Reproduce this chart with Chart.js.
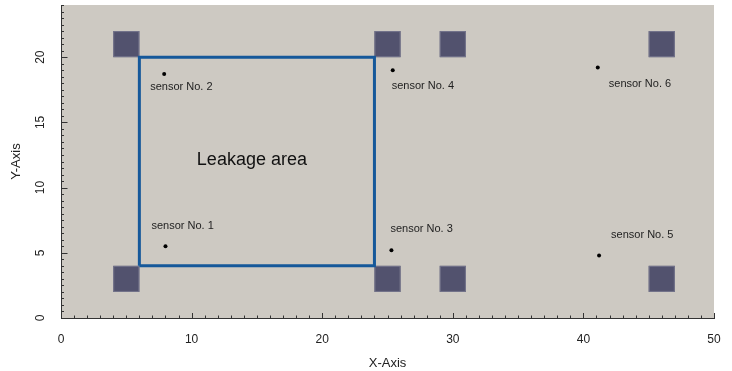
<!DOCTYPE html>
<html>
<head>
<meta charset="utf-8">
<script src="https://cdn.jsdelivr.net/npm/chart.js@4/dist/chart.umd.min.js"></script>
<style>
  html, body { margin: 0; padding: 0; background: #fff; }
</style>
</head>
<body>
<canvas id="chart" width="732" height="371"></canvas>
<script>
// Sensores
const sensorNames = ['sensor No. 1', 'sensor No. 2', 'sensor No. 3', 'sensor No. 4', 'sensor No. 5', 'sensor No. 6'];
const sensorX = [8.0, 7.9, 25.3, 25.4, 41.2, 41.1];
const sensorY = [5.5, 18.7, 5.2, 19.0, 4.8, 19.2];

// Zona de fuga (contorno cerrado)
const leakX = [6, 6, 24, 24, 6];
const leakY = [4, 20, 20, 4, 4];
const leakLabel = 'Leakage area';

// Bloques fijos de 2x2 (esquina inferior izquierda)
const blockX = [4, 24, 29, 45];
const blockY = [2, 20];
const blockSize = 2;

// Ejes
const xTicks = [0, 10, 20, 30, 40, 50];
const yTicks = [0, 5, 10, 15, 20];
const xRange = [0, 50];
const yRange = [0, 24];

// Desplazamiento de las etiquetas respecto al punto (px)
const labelOffsets = [[-14, -20], [-14, 13], [-1, -21], [-1, 16], [12, -20], [11, 16]];

const font = '"Liberation Sans", Arial, Helvetica, sans-serif';

const decor = {
  id: 'decor',
  beforeDraw(chart) {
    const { ctx, chartArea: a } = chart;
    ctx.save();
    ctx.fillStyle = '#cdc9c2';
    ctx.fillRect(a.left, a.top, a.right - a.left, a.bottom - a.top);
    ctx.restore();
  },
  beforeDatasetsDraw(chart) {
    const { ctx, scales: { x, y } } = chart;
    ctx.save();
    blockY.forEach(by => {
      blockX.forEach(bx => {
        const x0 = x.getPixelForValue(bx), x1 = x.getPixelForValue(bx + blockSize);
        const y0 = y.getPixelForValue(by + blockSize), y1 = y.getPixelForValue(by);
        ctx.fillStyle = '#52526e';
        ctx.fillRect(x0, y0, x1 - x0, y1 - y0);
        ctx.strokeStyle = '#75758c';
        ctx.lineWidth = 1;
        ctx.strokeRect(x0 + 0.5, y0 + 0.5, x1 - x0 - 1, y1 - y0 - 1);
      });
    });
    ctx.restore();
  },
  afterDraw(chart) {
    const { ctx, chartArea: a, scales: { x, y } } = chart;
    ctx.save();
    // marcas de los ejes hacia dentro
    ctx.strokeStyle = '#333';
    ctx.lineWidth = 1;
    ctx.beginPath();
    for (let v = xRange[0]; v <= xRange[1]; v += 1) {
      const px = Math.round(x.getPixelForValue(v)) + 0.5;
      const len = v % 10 === 0 ? 5 : 2.5;
      ctx.moveTo(px, a.bottom);
      ctx.lineTo(px, a.bottom - len);
    }
    for (let v = yRange[0]; v <= yRange[1]; v += 0.5) {
      const py = Math.round(y.getPixelForValue(v)) + 0.5;
      const len = v % 5 === 0 ? 6.5 : 3;
      ctx.moveTo(a.left, py);
      ctx.lineTo(a.left + len, py);
    }
    ctx.stroke();

    // etiquetas de sensores
    ctx.fillStyle = '#1e1e1e';
    ctx.font = '11px ' + font;
    ctx.textAlign = 'left';
    ctx.textBaseline = 'middle';
    sensorNames.forEach((name, i) => {
      const px = x.getPixelForValue(sensorX[i]) + labelOffsets[i][0];
      const py = y.getPixelForValue(sensorY[i]) + labelOffsets[i][1];
      ctx.fillText(name, px, py);
    });

    // texto de la zona de fuga
    const cx = (x.getPixelForValue(Math.min(...leakX)) + x.getPixelForValue(Math.max(...leakX))) / 2;
    const cy = (y.getPixelForValue(Math.min(...leakY)) + y.getPixelForValue(Math.max(...leakY))) / 2;
    ctx.font = '18px ' + font;
    ctx.textAlign = 'center';
    ctx.fillStyle = '#111';
    ctx.fillText(leakLabel, cx - 5, cy - 1);
    ctx.restore();
  }
};

new Chart(document.getElementById('chart').getContext('2d'), {
  type: 'scatter',
  data: {
    datasets: [
      {
        label: 'leak',
        data: leakX.map((v, i) => ({ x: v, y: leakY[i] })),
        showLine: true,
        borderColor: '#15589a',
        borderWidth: 3,
        pointRadius: 0,
        fill: false,
      },
      {
        label: 'sensors',
        data: sensorX.map((v, i) => ({ x: v, y: sensorY[i] })),
        backgroundColor: '#000',
        borderWidth: 0,
        pointRadius: 2,
      },
    ],
  },
  options: {
    responsive: false,
    animation: false,
    devicePixelRatio: 1,
    layout: { padding: { left: 0, right: 18, top: 5, bottom: 0 } },
    plugins: { legend: { display: false }, tooltip: { enabled: false } },
    scales: {
      x: {
        type: 'linear',
        min: xRange[0],
        max: xRange[1],
        afterBuildTicks: s => { s.ticks = xTicks.map(v => ({ value: v })); },
        afterFit: s => { s.height = 53; s.paddingLeft = 0; s.paddingRight = 0; },
        grid: { display: false, drawTicks: false },
        border: { display: true, color: '#333', width: 1 },
        ticks: { padding: 14, color: '#222', font: { family: font, size: 12 } },
        title: { display: true, text: 'X-Axis', color: '#222', font: { family: font, size: 13 }, padding: { top: 0, bottom: 0 } },
      },
      y: {
        type: 'linear',
        min: yRange[0],
        max: yRange[1],
        afterBuildTicks: s => { s.ticks = yTicks.map(v => ({ value: v })); },
        afterFit: s => { s.width = 61; s.paddingTop = 0; s.paddingBottom = 0; },
        grid: { display: false, drawTicks: false },
        border: { display: true, color: '#333', width: 1 },
        ticks: { padding: 14, minRotation: 90, maxRotation: 90, crossAlign: 'center', color: '#222', font: { family: font, size: 12 } },
        title: { display: true, text: 'Y-Axis', color: '#222', font: { family: font, size: 13 }, padding: { top: 9, bottom: 0 } },
      },
    },
  },
  plugins: [decor],
});
</script>
</body>
</html>
